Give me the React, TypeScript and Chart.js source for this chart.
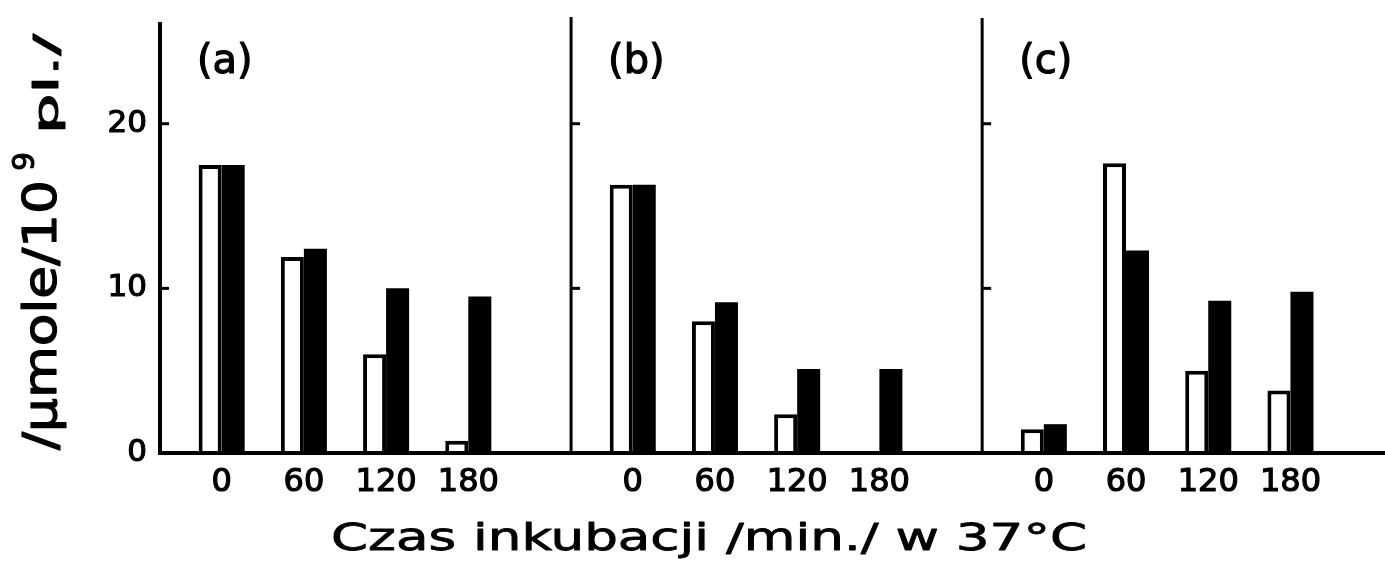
import React, { useEffect, useRef } from "react";
import { Chart, registerables } from "chart.js";

Chart.register(...registerables);

// ---- data ----
const panelLabels = ["(a)", "(b)", "(c)"];
const times = [0, 60, 120, 180];
const whiteA = [17.5, 11.9, 6.0, 0.75];
const blackA = [17.5, 12.4, 10.0, 9.5];
const whiteB = [16.3, 8.0, 2.35, 0];
const blackB = [16.3, 9.15, 5.1, 5.1];
const whiteC = [1.45, 17.6, 5.0, 3.8];
const blackC = [1.75, 12.3, 9.25, 9.8];
const yTicks = [0, 10, 20];
const yTitleMain = "/μmole/10";
const yTitleSup = "9";
const yTitleEnd = "pl./";
const xTitle = "Czas inkubacji /min./ w 37°C";

// ---- layout constants (x units: minutes; each panel spans 300) ----
const PANEL_SPAN = 300;
const PANEL_START = -45;
const FONT = '"DejaVu Sans", "Noto Sans", sans-serif';

const whites = [whiteA, whiteB, whiteC];
const blacks = [blackA, blackB, blackC];

const toPoints = (series: number[][]) =>
  series.flatMap((vals, p) => vals.map((v, i) => ({ x: p * PANEL_SPAN + times[i], y: v })));

const tickValues = panelLabels.flatMap((_, p) => times.map((t) => p * PANEL_SPAN + t));

function drawText(ctx: any, text: string, x: number, y: number, stroke = 1) {
  ctx.fillText(text, x, y);
  if (stroke > 0) {
    ctx.lineWidth = stroke;
    ctx.strokeText(text, x, y);
  }
}

const decor = {
  id: "decor",
  afterDraw(chart: any) {
    const { ctx, chartArea } = chart;
    const xs = chart.scales.x;
    const ys = chart.scales.y;
    const y0 = ys.getPixelForValue(0);
    ctx.save();
    ctx.strokeStyle = "#000";
    ctx.fillStyle = "#000";
    ctx.lineCap = "butt";
    ctx.lineJoin = "round";

    // baseline
    ctx.lineWidth = 4;
    ctx.beginPath();
    ctx.moveTo(chartArea.left - 2, y0);
    ctx.lineTo(chartArea.right, y0);
    ctx.stroke();

    panelLabels.forEach((lab, i) => {
      const px = xs.getPixelForValue(i * PANEL_SPAN + PANEL_START);
      ctx.lineWidth = i === 0 ? 4 : 3;
      ctx.beginPath();
      ctx.moveTo(px, chartArea.top + (i === 0 ? 2 : -4 + i));
      ctx.lineTo(px, y0 + 2);
      ctx.stroke();
      ctx.lineWidth = 3;
      yTicks
        .filter((v) => v > 0)
        .forEach((v) => {
          const py = ys.getPixelForValue(v);
          ctx.beginPath();
          ctx.moveTo(px, py);
          ctx.lineTo(px + 9, py);
          ctx.stroke();
        });
      ctx.font = `40px ${FONT}`;
      ctx.textAlign = "left";
      ctx.textBaseline = "alphabetic";
      drawText(ctx, lab, px + 37, chartArea.top + 53, 1.2);
    });

    // x title (stretched horizontally to the reference width)
    ctx.font = `38px ${FONT}`;
    ctx.textAlign = "left";
    ctx.textBaseline = "alphabetic";
    const w0 = ctx.measureText(xTitle).width;
    const fx = 756 / w0;
    ctx.save();
    ctx.translate(331, 550);
    ctx.scale(fx, 1);
    drawText(ctx, xTitle, 0, 0, 0.8);
    ctx.restore();

    // y title (rotated)
    ctx.save();
    ctx.translate(56, 450);
    ctx.rotate(-Math.PI / 2);
    ctx.font = `46px ${FONT}`;
    const m0 = ctx.measureText(yTitleMain).width;
    ctx.save();
    ctx.scale(270 / m0, 1);
    drawText(ctx, yTitleMain, 0, 0, 1.2);
    ctx.restore();
    ctx.font = `30px ${FONT}`;
    drawText(ctx, yTitleSup, 279, -22, 1);
    ctx.font = `33px ${FONT}`;
    const e0 = ctx.measureText(yTitleEnd).width;
    ctx.save();
    ctx.translate(316, 2);
    ctx.scale(100 / e0, 1);
    drawText(ctx, yTitleEnd, 0, 0, 1);
    ctx.restore();
    ctx.restore();

    ctx.restore();
  },
};

export default function App() {
  const ref = useRef<HTMLCanvasElement | null>(null);

  useEffect(() => {
    document.body.style.margin = "0";
    document.body.style.overflow = "hidden";
    const canvas = ref.current!;
    const chart = new Chart(canvas, {
      type: "bar",
      data: {
        datasets: [
          {
            label: "white",
            data: toPoints(whites),
            backgroundColor: "#ffffff",
            borderColor: "#000000",
            borderWidth: 4,
            borderSkipped: "start",
            categoryPercentage: 0.56,
            barPercentage: 1,
          },
          {
            label: "black",
            data: toPoints(blacks),
            backgroundColor: "#000000",
            borderColor: "#000000",
            borderWidth: 0,
            categoryPercentage: 0.56,
            barPercentage: 1,
          },
        ],
      } as any,
      options: {
        responsive: false,
        animation: false,
        layout: { padding: { top: 20, left: 0, right: 0, bottom: 0 } },
        plugins: { legend: { display: false }, tooltip: { enabled: false } },
        scales: {
          x: {
            type: "linear",
            min: PANEL_START,
            max: 849,
            offset: false,
            grid: { display: false, drawTicks: false },
            border: { display: false },
            afterBuildTicks: (s: any) => {
              s.ticks = tickValues.map((v) => ({ value: v }));
            },
            afterFit: (s: any) => {
              s.height = 114;
              s.paddingLeft = 0;
              s.paddingRight = 0;
            },
            ticks: {
              autoSkip: false,
              maxRotation: 0,
              minRotation: 0,
              padding: 10,
              color: "#000",
              textStrokeColor: "#000",
              textStrokeWidth: 1.2,
              font: { family: FONT, size: 32 },
              callback: (_v: any, i: number) => String(times[i % times.length]),
            },
          },
          y: {
            min: 0,
            max: 26.3,
            grid: { display: false, drawTicks: false },
            border: { display: false },
            afterBuildTicks: (s: any) => {
              s.ticks = yTicks.map((v) => ({ value: v }));
            },
            afterFit: (s: any) => {
              s.width = 160;
              s.paddingTop = 0;
              s.paddingBottom = 0;
            },
            ticks: {
              padding: 13,
              color: "#000",
              textStrokeColor: "#000",
              textStrokeWidth: 1.2,
              font: { family: FONT, size: 31 },
            },
          },
        },
      } as any,
      plugins: [decor],
    });
    return () => chart.destroy();
  }, []);

  return (
    <canvas
      ref={ref}
      width={1385}
      height={567}
      style={{ display: "block", width: 1385, height: 567 }}
    />
  );
}
